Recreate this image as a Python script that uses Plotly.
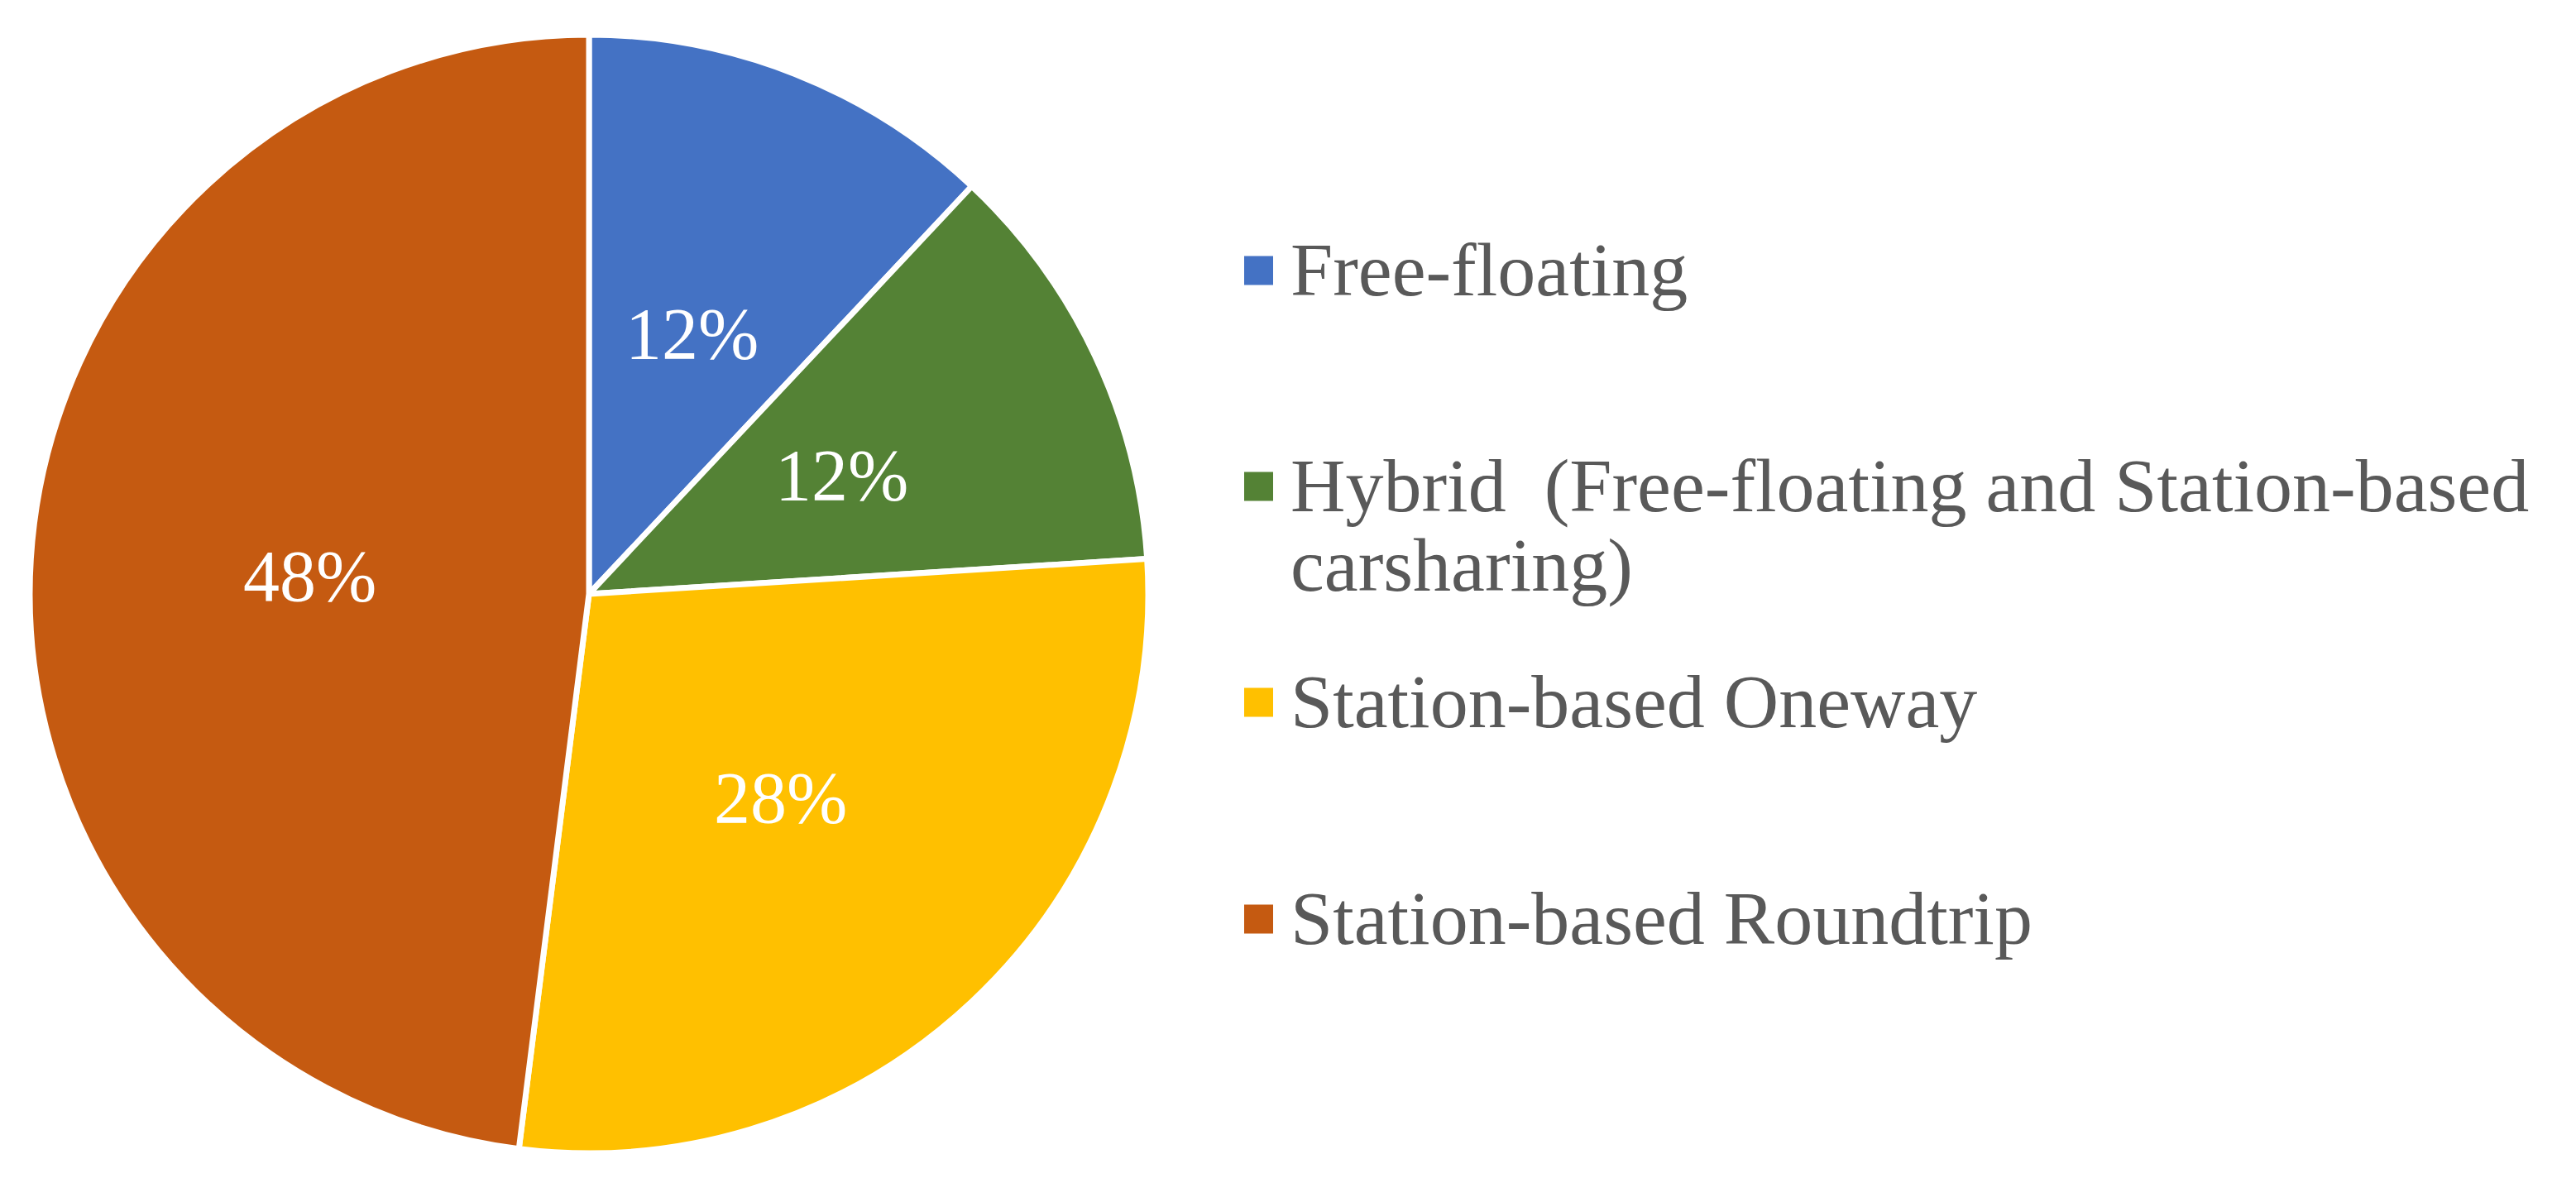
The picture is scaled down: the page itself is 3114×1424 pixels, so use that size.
import math
import plotly.graph_objects as go

# data
labels = ['Free-floating',
          'Hybrid  (Free-floating and Station-based carsharing)',
          'Station-based Oneway',
          'Station-based Roundtrip']
legend_lines = [['Free-floating'],
                ['Hybrid  (Free-floating and Station-based', 'carsharing)'],
                ['Station-based Oneway'],
                ['Station-based Roundtrip']]
shares = [12, 12, 28, 48]
colors = ['#4472C4', '#548235', '#FFC000', '#C55A11']

W, H = 3114, 1424
serif = 'Times New Roman, Liberation Serif, serif'

# pie placement (px)
cx, cy, rad = 704, 710, 676

fig = go.Figure()

fig.add_trace(go.Pie(
    labels=labels,
    values=shares,
    sort=False,
    direction='clockwise',
    rotation=0,
    marker=dict(colors=colors, line=dict(color='white', width=7)),
    textinfo='none',
    domain=dict(x=[(cx - rad) / W, (cx + rad) / W],
                y=[1 - (cy + rad) / H, 1 - (cy - rad) / H]),
    showlegend=False,
    hoverinfo='label+percent',
))

# percentage labels at half radius along each slice bisector
total = sum(shares)
start = 0.0
for v in shares:
    mid = (start + v / 2) / total * 2 * math.pi
    start += v
    px = cx + 0.5 * rad * math.sin(mid)
    py = cy - 0.5 * rad * math.cos(mid)
    fig.add_annotation(x=px / W, y=1 - py / H, xref='paper', yref='paper',
                       xanchor='center', yanchor='middle',
                       text=f'{v / total:.0%}', showarrow=False,
                       font=dict(family=serif, size=88, color='white'))

# legend drawn by hand so the row gaps match the original
marker_y = [319, 580, 841, 1103]      # px from top, centre of each square
sq = 35
line_gap = 96
for lines, col, my in zip(legend_lines, colors, marker_y):
    fig.add_shape(type='rect', xref='paper', yref='paper',
                  x0=1496 / W, x1=(1496 + sq) / W,
                  y0=1 - (my + sq / 2) / H, y1=1 - (my - sq / 2) / H,
                  fillcolor=col, line_width=0)
    for i, ln in enumerate(lines):
        fig.add_annotation(x=1550 / W, y=1 - (my - 1 + i * line_gap) / H,
                           xref='paper', yref='paper',
                           xanchor='left', yanchor='middle', align='left',
                           text=ln, showarrow=False,
                           font=dict(family=serif, size=92, color='#595959'))

fig.update_layout(
    width=W, height=H,
    margin=dict(l=0, r=0, t=0, b=0),
    paper_bgcolor='white',
    plot_bgcolor='white',
)

fig.write_html('out.html')
